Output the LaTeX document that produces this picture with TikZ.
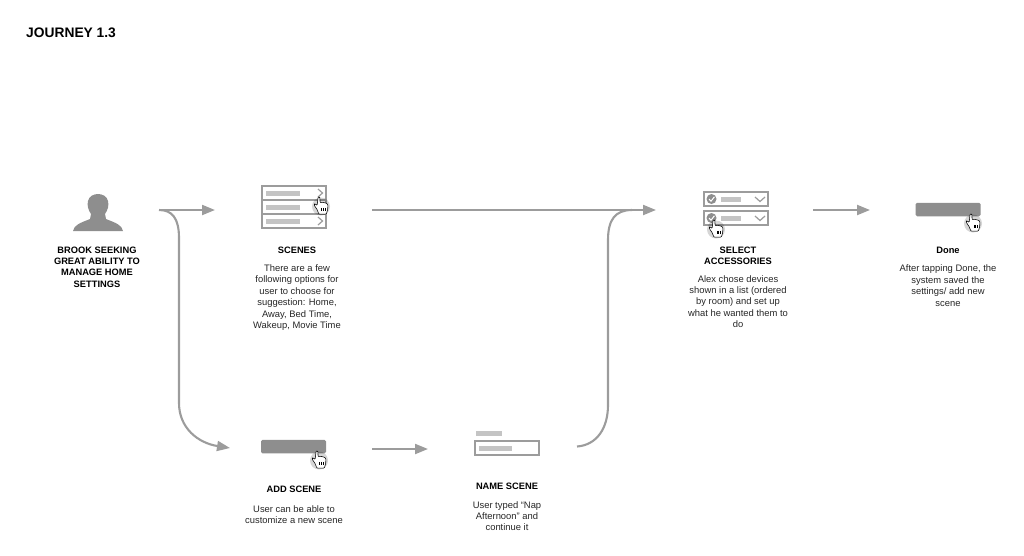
\documentclass[tikz,border=0pt]{standalone}
\usepackage{fontspec}
\setmainfont{Liberation Sans}
\usepackage{xcolor}
\usetikzlibrary{arrows.meta}
\definecolor{linegray}{HTML}{9C9C9C}
\definecolor{fillgray}{HTML}{8E8E8E}
\definecolor{bargray}{HTML}{C4C4C4}
\tikzset{
	flow/.style={draw=linegray, line width=2.1pt, -{Triangle[length=13pt, width=10pt]}},
	headtext/.style={anchor=north, inner sep=0pt, align=center, font=\fontsize{9.3}{11.4}\selectfont\bfseries},
	bodytext/.style={anchor=north, inner sep=0pt, align=center, font=\fontsize{9.4}{11.45}\selectfont, text=black!85},
	outline/.style={draw=linegray, line width=2pt, fill=white},
	bar/.style={fill=bargray, draw=none},
	button/.style={fill=fillgray, rounded corners=1.5pt, draw=none},
	chevron/.style={draw=linegray, line width=1.2pt},
	hand/.pic={
		\fill[black, opacity=.16] (0,1.5) circle (9pt);
		\begin{scope}[scale=1.15]
		\draw[black, line width=.55pt, fill=white, rounded corners=.8pt]
			(-2.5,-7) -- (-1,-7) -- (-.8,-2) -- (1,-2.4) -- (3,-2) -- (5,-1.4) -- (6,-.4) -- (5.8,4) -- (4.6,8) -- (-1.8,8)
			-- (-3.4,4) -- (-6,0) -- (-5.4,-1.2) -- (-3.4,.4) -- cycle;
		\draw[black, line width=.4pt] (.6,2.5) -- (.6,5.5) (2.2,2.5) -- (2.2,5.5) (3.8,2.5) -- (3.8,5.5);
		\end{scope}
	}
}
\begin{document}
\begin{tikzpicture}[x=1pt, y=-1pt]
	\useasboundingbox (0,0) rectangle (1024,555);
	\node[anchor=west, inner sep=0pt, font=\fontsize{13.8}{15}\selectfont\bfseries] (title) at (26,33) {JOURNEY 1.3};

	% person
	\fill[fillgray] (73,231) .. controls (74,225) and (80,223) .. (90,219) -- (91,214)
		.. controls (88,210) and (87,205) .. (88,201) .. controls (89,196) and (94,194) .. (98,194)
		.. controls (102,194) and (107,196) .. (108,201) .. controls (109,205) and (108,210) .. (105,214)
		-- (106,219) .. controls (116,223) and (122,225) .. (123,231) -- cycle;

	% scenes list
	\foreach \y in {186,200,214}
	{
		\draw[outline] (262,\y) rectangle (326,\y+14);
		\fill[bar] (266,\y+5) rectangle (300,\y+9.5);
		\draw[chevron] (318,\y+3) -- (322.5,\y+7) -- (318,\y+11);
	}

	% accessories
	\foreach \y in {192,211}
	{
		\draw[outline] (704,\y) rectangle (768,\y+14);
		\fill[fillgray] (711.5,\y+7) circle (5pt);
		\draw[white, line width=1pt] (709,\y+7) -- (711,\y+9.2) -- (714.4,\y+4.8);
		\fill[bar] (721,\y+5) rectangle (741,\y+9.5);
		\draw[chevron] (755,\y+5) -- (760,\y+9.5) -- (765,\y+5);
	}

	% buttons
	\node[button, minimum width=65pt, minimum height=13.5pt, inner sep=0pt] (done) at (948,209.5) {};
	\node[button, minimum width=65pt, minimum height=13.5pt, inner sep=0pt] (add) at (293.5,446.5) {};

	% name field
	\fill[bar] (475.5,431) rectangle (502,436);
	\draw[outline] (475,440.5) rectangle (539,455);
	\fill[bar] (479,446) rectangle (512,450.5);

	\foreach \pos in {(321,205), (716,228), (973,222), (319,459)}
	{
		\pic at \pos {hand};
	}

	% labels
	\node[headtext] (brook) at (97,246.3) {BROOK SEEKING\\GREAT ABILITY TO\\MANAGE HOME\\SETTINGS};
	\node[headtext] (sceneshead) at (297,246.8) {SCENES};
	\node[bodytext] (scenesbody) at (297,264.5) {There are a few\\following options for\\user to choose for\\suggestion: Home,\\Away, Bed Time,\\Wakeup, Movie Time};
	\node[headtext] (selecthead) at (738,246.5) {SELECT\\ACCESSORIES};
	\node[bodytext] (selectbody) at (738,275) {Alex chose devices\\shown in a list (ordered\\by room) and set up\\what he wanted them to\\do};
	\node[headtext] (donehead) at (948,246.8) {Done};
	\node[bodytext] (donebody) at (948,264.8) {After tapping Done, the\\system saved the\\settings/ add new\\scene};
	\node[headtext] (addhead) at (294,486) {ADD SCENE};
	\node[bodytext] (addbody) at (294,505) {User can be able to\\customize a new scene};
	\node[headtext] (namehead) at (507,483) {NAME SCENE};
	\node[bodytext] (namebody) at (507,501) {User typed “Nap\\Afternoon” and\\continue it};

	% connector ends
	\coordinate (personout) at (159,210);
	\coordinate (scenesin) at (215,210);
	\coordinate (addin) at (230,448);
	\coordinate (scenesout) at (372,210);
	\coordinate (selectin) at (656,210);
	\coordinate (addout) at (372,449);
	\coordinate (namein) at (428,449);
	\coordinate (nameout) at (577,446.5);
	\coordinate (selectout) at (813,210);
	\coordinate (donein) at (870,210);

	\draw[flow] (personout) -- (scenesin);
	\draw[flow] (personout) .. controls (172,210) and (179,218) .. (179,238) -- (179,403) .. controls (179,428) and (198,443) .. (addin);
	\draw[flow] (scenesout) -- (selectin);
	\draw[flow] (addout) -- (namein);
	\draw[draw=linegray, line width=2.1pt] (nameout) .. controls (597,445) and (608,428) .. (608,405) -- (608,240) .. controls (608,220) and (615,210) .. (632,210);
	\draw[flow] (selectout) -- (donein);
\end{tikzpicture}
\end{document}
